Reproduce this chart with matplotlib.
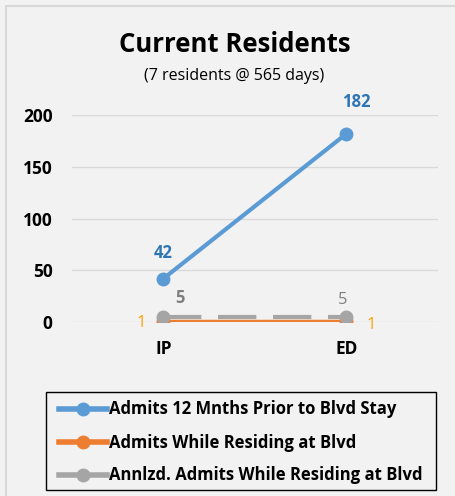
import matplotlib.pyplot as plt
from matplotlib.patches import Rectangle

plt.rcParams['font.family'] = ['Open Sans', 'DejaVu Sans']

categories = ['IP', 'ED']
prior_12m = [42, 182]
while_residing = [1, 1]
annualized = [5, 5]

series_names = ['Admits 12 Mnths Prior to Blvd Stay',
                'Admits While Residing at Blvd',
                'Annlzd. Admits While Residing at Blvd']

W, H = 456, 496
bg = '#F2F2F2'
fig = plt.figure(figsize=(W / 100, H / 100), dpi=100, facecolor=bg)

# thin outer frame (top and left edges visible)
fig.patches.append(Rectangle((6 / W, -0.05), 1.1, 1.05 - 6 / H, transform=fig.transFigure,
                             facecolor='none', edgecolor='#D9D9D9', linewidth=1.5))

ax = fig.add_axes([72 / W, (H - 322) / H, 366 / W, (322 - 115) / H])
ax.set_facecolor(bg)
x = [0, 1]
ax.set_xlim(-0.5, 1.5)
ax.set_ylim(0, 200)
ax.set_yticks([0, 50, 100, 150, 200])
ax.grid(axis='y', color='#D9D9D9', linewidth=1)
ax.set_axisbelow(True)
for s in ax.spines.values():
    s.set_visible(False)
ax.tick_params(length=0, labelsize=12.5)
ax.tick_params(axis='y', pad=14)
ax.tick_params(axis='x', pad=13)
ax.set_xticks(x)
ax.set_xticklabels(categories, fontweight='bold')
for t in ax.get_yticklabels():
    t.set_fontweight('bold')

blue, orange, gray = '#5B9BD5', '#ED7D31', '#A5A5A5'
ax.plot(x, prior_12m, color=blue, lw=3, marker='o', ms=9, label=series_names[0], zorder=3)
ax.plot(x, while_residing, color=orange, lw=2.5, marker='o', ms=9, label=series_names[1], zorder=3)
ax.plot(x, annualized, color=gray, lw=3, marker='o', ms=9, dashes=(9.2, 4),
        label=series_names[2], zorder=4)


def label(val, xi, dx, dy, color, bold=True):
    # offsets in pixels, converted to points
    ax.annotate(str(val), (xi, val), xytext=(dx * 0.72, dy * 0.72), textcoords='offset points',
                ha='center', va='baseline', color=color, fontsize=12,
                fontweight='bold' if bold else 'normal')


label(prior_12m[0], x[0], 0, 21, '#2E75B6')
label(prior_12m[1], x[1], 10, 27, '#2E75B6')
label(annualized[0], x[0], 16, 14, '#7F7F7F')
label(annualized[1], x[1], -4, 13, '#7F7F7F', bold=False)
label(while_residing[0], x[0], -22.5, -6, '#FFA000', bold=False)
label(while_residing[1], x[1], 24.5, -8, '#FFA000', bold=False)

fig.text(235 / W, 1 - 44 / H, 'Current Residents', ha='center', va='center',
         fontsize=18.5, fontweight='bold')
fig.text(234 / W, 1 - 76 / H, '(7 residents @ 565 days)', ha='center', va='center', fontsize=11.5)

# legend box drawn separately so the entries can sit inset from its edge
fig.patches.append(Rectangle((46 / W, 1 - 490 / H), 390 / W, 98 / H, transform=fig.transFigure,
                             facecolor=bg, edgecolor='black', linewidth=1, zorder=5))
leg = fig.legend(loc='upper left', bbox_to_anchor=(59 / W, 1 - 400.5 / H),
                 frameon=False, handlelength=2.87, handletextpad=0.12,
                 labelspacing=0.9, borderpad=0, borderaxespad=0,
                 prop={'weight': 'bold', 'size': 12})
leg.set_zorder(6)
for h in leg.legend_handles:
    h.set_linestyle('-')
    h.set_linewidth(4)

fig.savefig('out.png', dpi=100, facecolor=bg)
